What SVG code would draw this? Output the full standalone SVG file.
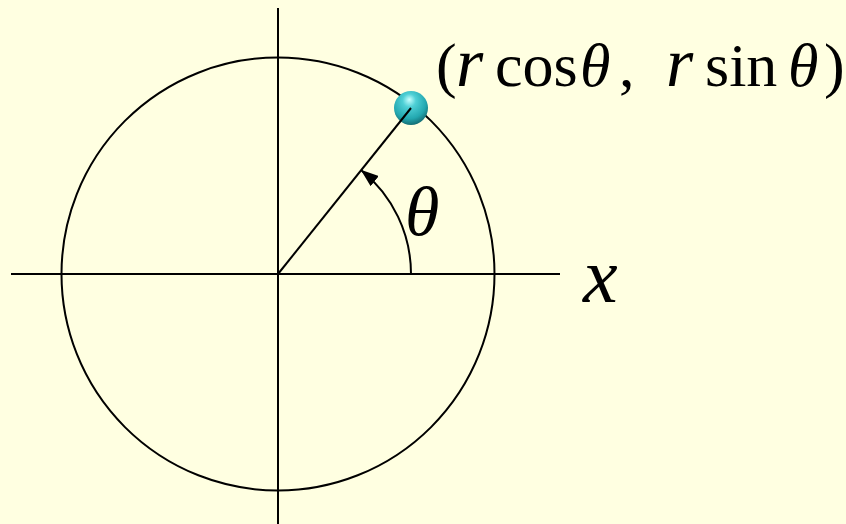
<svg xmlns="http://www.w3.org/2000/svg" width="846" height="524" viewBox="0 0 846 524">
  <style>
    .ln { stroke: #000; stroke-width: 2; fill: none; }
    .lbl { font-family: "Liberation Serif", "Times New Roman", serif; fill: #000; }
    .it { font-style: italic; }
  </style>
  <defs>
    <radialGradient id="sphere" cx="0.45" cy="0.35" r="0.65" fx="0.45" fy="0.25">
      <stop offset="0" stop-color="#c8ffff"/>
      <stop offset="0.3" stop-color="#4fd0d6"/>
      <stop offset="0.75" stop-color="#23a8b0"/>
      <stop offset="1" stop-color="#146f75"/>
    </radialGradient>
    <marker id="arrow" viewBox="0 0 18 13" refX="17" refY="6.5" markerWidth="18" markerHeight="13" markerUnits="userSpaceOnUse" orient="auto">
      <path d="M0,0 L18,6.5 L0,13 Z" fill="#000"/>
    </marker>
  </defs>
  <rect width="846" height="524" fill="#ffffe1"/>

  <g id="axes">
    <line class="ln" x1="11" y1="274" x2="560" y2="274"/>
    <line class="ln" x1="278" y1="8" x2="278" y2="524"/>
  </g>

  <g id="circle">
    <circle class="ln" cx="278" cy="274" r="216.5"/>
  </g>

  <g id="point">
    <circle cx="411" cy="108" r="17" fill="url(#sphere)"/>
  </g>

  <g id="connectors">
    <line class="ln" x1="278" y1="274" x2="411" y2="108"/>
    <path class="ln" d="M 411 274 A 133 133 0 0 0 361.5 170.5" marker-end="url(#arrow)"/>
  </g>

  <g id="label-point">
    <text class="lbl" y="86" font-size="62"><tspan x="436">(</tspan><tspan class="it" x="456" font-size="70">r</tspan><tspan x="495">cos</tspan><tspan class="it" x="580">θ</tspan><tspan x="619">,</tspan><tspan class="it" x="666" font-size="70">r</tspan><tspan x="705">sin</tspan><tspan class="it" x="788">θ</tspan><tspan x="824">)</tspan></text>
  </g>

  <g id="label-theta">
    <text class="lbl it" x="405" y="235" font-size="70">θ</text>
  </g>

  <g id="label-x">
    <text class="lbl it" x="583" y="302" font-size="78">x</text>
  </g>
</svg>
